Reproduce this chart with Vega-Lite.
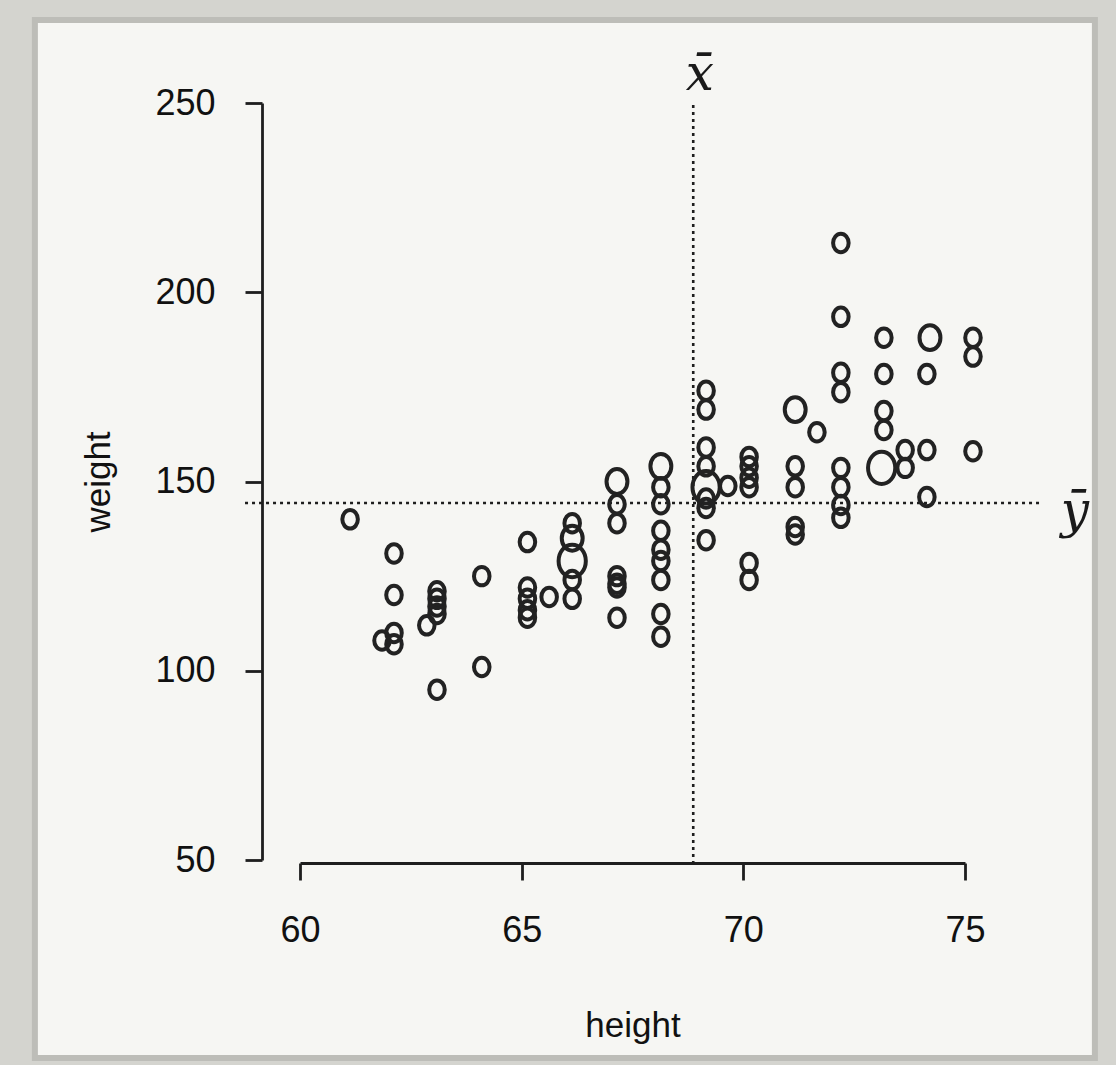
{
  "$schema": "https://vega.github.io/schema/vega-lite/v6.json",
  "width": 665,
  "height": 757,
  "autosize": {"type": "none"},
  "padding": {"left": 300, "top": 103, "right": 151, "bottom": 205},
  "background": "#d4d4cf",
  "config": {
    "view": {"stroke": null},
    "font": "Liberation Sans",
    "axis": {
      "domainColor": "#1e1e1e",
      "domainWidth": 2.8,
      "tickColor": "#1e1e1e",
      "tickWidth": 2.8,
      "tickSize": 17,
      "grid": false,
      "labelFlush": false,
      "labelFont": "Liberation Sans",
      "labelFontSize": 36,
      "labelColor": "#111111",
      "titleFont": "Liberation Sans",
      "titleFontSize": 35,
      "titleFontWeight": "normal",
      "titleColor": "#111111"
    }
  },
  "data": {
    "values": [
      {"height": 61.13, "weight": 140, "n": 1},
      {"height": 62.12, "weight": 131, "n": 1},
      {"height": 62.12, "weight": 120, "n": 1},
      {"height": 62.12, "weight": 110, "n": 1},
      {"height": 62.12, "weight": 107, "n": 1},
      {"height": 61.85, "weight": 108, "n": 1},
      {"height": 63.09, "weight": 121, "n": 1},
      {"height": 63.09, "weight": 119, "n": 1},
      {"height": 63.09, "weight": 117, "n": 1},
      {"height": 63.09, "weight": 115, "n": 1},
      {"height": 62.86, "weight": 112, "n": 1},
      {"height": 63.09, "weight": 95, "n": 1},
      {"height": 64.1, "weight": 125, "n": 1},
      {"height": 64.1, "weight": 101, "n": 1},
      {"height": 65.13, "weight": 134, "n": 1},
      {"height": 65.13, "weight": 122, "n": 1},
      {"height": 65.13, "weight": 119, "n": 1},
      {"height": 65.13, "weight": 116, "n": 1},
      {"height": 65.13, "weight": 114, "n": 1},
      {"height": 65.62, "weight": 119.5, "n": 1},
      {"height": 66.14, "weight": 139, "n": 1},
      {"height": 66.14, "weight": 135, "n": 2},
      {"height": 66.14, "weight": 129, "n": 3},
      {"height": 66.14, "weight": 124, "n": 1},
      {"height": 66.14, "weight": 119, "n": 1},
      {"height": 67.15, "weight": 150, "n": 2},
      {"height": 67.15, "weight": 144, "n": 1},
      {"height": 67.15, "weight": 139, "n": 1},
      {"height": 67.15, "weight": 125, "n": 1},
      {"height": 67.15, "weight": 123, "n": 1},
      {"height": 67.15, "weight": 122, "n": 1},
      {"height": 67.15, "weight": 114, "n": 1},
      {"height": 68.14, "weight": 154, "n": 2},
      {"height": 68.14, "weight": 148.5, "n": 1},
      {"height": 68.14, "weight": 144, "n": 1},
      {"height": 68.14, "weight": 137, "n": 1},
      {"height": 68.14, "weight": 132, "n": 1},
      {"height": 68.14, "weight": 129, "n": 1},
      {"height": 68.14, "weight": 124, "n": 1},
      {"height": 68.14, "weight": 115, "n": 1},
      {"height": 68.14, "weight": 109, "n": 1},
      {"height": 69.16, "weight": 174, "n": 1},
      {"height": 69.16, "weight": 169, "n": 1},
      {"height": 69.16, "weight": 159, "n": 1},
      {"height": 69.16, "weight": 154, "n": 1},
      {"height": 69.16, "weight": 148.5, "n": 3},
      {"height": 69.16, "weight": 145.5, "n": 1},
      {"height": 69.16, "weight": 143, "n": 1},
      {"height": 69.16, "weight": 134.5, "n": 1},
      {"height": 69.65, "weight": 148.8, "n": 1},
      {"height": 70.13, "weight": 156.5, "n": 1},
      {"height": 70.13, "weight": 154, "n": 1},
      {"height": 70.13, "weight": 151, "n": 1},
      {"height": 70.13, "weight": 148.5, "n": 1},
      {"height": 70.13, "weight": 128.5, "n": 1},
      {"height": 70.13, "weight": 124, "n": 1},
      {"height": 71.17, "weight": 169, "n": 2},
      {"height": 71.66, "weight": 163, "n": 1},
      {"height": 71.17, "weight": 154, "n": 1},
      {"height": 71.17, "weight": 148.5, "n": 1},
      {"height": 71.17, "weight": 138, "n": 1},
      {"height": 71.17, "weight": 136, "n": 1},
      {"height": 72.2, "weight": 213, "n": 1},
      {"height": 72.2, "weight": 193.5, "n": 1},
      {"height": 72.2, "weight": 178.7, "n": 1},
      {"height": 72.2, "weight": 173.6, "n": 1},
      {"height": 72.2, "weight": 153.6, "n": 1},
      {"height": 72.2, "weight": 148.5, "n": 1},
      {"height": 72.2, "weight": 143.8, "n": 1},
      {"height": 72.2, "weight": 140.4, "n": 1},
      {"height": 73.17, "weight": 188, "n": 1},
      {"height": 73.17, "weight": 178.4, "n": 1},
      {"height": 73.17, "weight": 168.6, "n": 1},
      {"height": 73.17, "weight": 163.6, "n": 1},
      {"height": 73.12, "weight": 153.6, "n": 3},
      {"height": 73.65, "weight": 158.3, "n": 1},
      {"height": 73.65, "weight": 153.6, "n": 1},
      {"height": 74.14, "weight": 158.3, "n": 1},
      {"height": 74.14, "weight": 145.9, "n": 1},
      {"height": 74.21, "weight": 188, "n": 2},
      {"height": 74.14, "weight": 178.4, "n": 1},
      {"height": 75.18, "weight": 188, "n": 1},
      {"height": 75.18, "weight": 183, "n": 1},
      {"height": 75.18, "weight": 158, "n": 1}
    ]
  },
  "layer": [
    {
      "data": {"values": [{}]},
      "mark": {"type": "rect", "fill": "#f6f6f3", "stroke": "#bdbdb8", "strokeWidth": 6},
      "encoding": {
        "x": {
          "datum": 54.02, "type": "quantitative",
          "scale": {"domain": [60, 75], "nice": false, "zero": false},
          "axis": {"values": [60, 65, 70, 75], "title": "height", "offset": 3, "labelPadding": 33, "titlePadding": 60, "zindex": 1}
        },
        "x2": {"datum": 77.93},
        "y": {
          "datum": 271.9, "type": "quantitative",
          "scale": {"domain": [50, 250], "nice": false, "zero": false},
          "axis": {"values": [50, 100, 150, 200, 250], "title": "weight", "offset": 38, "labelPadding": 30, "titlePadding": 38, "zindex": 1}
        },
        "y2": {"datum": -2.3}
      }
    },
    {
      "data": {"values": [{}]},
      "mark": {"type": "rule", "color": "#1e1e1e", "strokeWidth": 2.6, "strokeDash": [3, 4]},
      "encoding": {
        "x": {"datum": 68.87, "type": "quantitative"},
        "y": {"datum": 249.5, "type": "quantitative"},
        "y2": {"datum": 48.5}
      }
    },
    {
      "data": {"values": [{}]},
      "mark": {"type": "rule", "color": "#1e1e1e", "strokeWidth": 2.6, "strokeDash": [3, 4]},
      "encoding": {
        "y": {"datum": 144.3, "type": "quantitative"},
        "x": {"datum": 58.76, "type": "quantitative"},
        "x2": {"datum": 76.69}
      }
    },
    {
      "mark": {
        "type": "point",
        "shape": "M-0.84,0A0.84,1,0,1,1,0.84,0A0.84,1,0,1,1,-0.84,0Z",
        "filled": false, "stroke": "#222222", "strokeWidth": 4, "opacity": 1
      },
      "encoding": {
        "x": {"field": "height", "type": "quantitative", "title": "height"},
        "y": {"field": "weight", "type": "quantitative", "title": "weight"},
        "size": {
          "field": "n", "type": "quantitative",
          "scale": {"domain": [1, 2, 3], "range": [342, 620, 1050]},
          "legend": null
        }
      }
    },
    {
      "data": {"values": [{"lab": "x̄", "h": 69.02, "w": 257.4}, {"lab": "ȳ", "h": 77.48, "w": 141.9}]},
      "mark": {"type": "text", "font": "DejaVu Serif", "fontStyle": "italic", "fontSize": 50, "color": "#1a1a1a"},
      "encoding": {
        "x": {"field": "h", "type": "quantitative", "title": "height"},
        "y": {"field": "w", "type": "quantitative", "title": "weight"},
        "text": {"field": "lab"}
      }
    }
  ]
}
